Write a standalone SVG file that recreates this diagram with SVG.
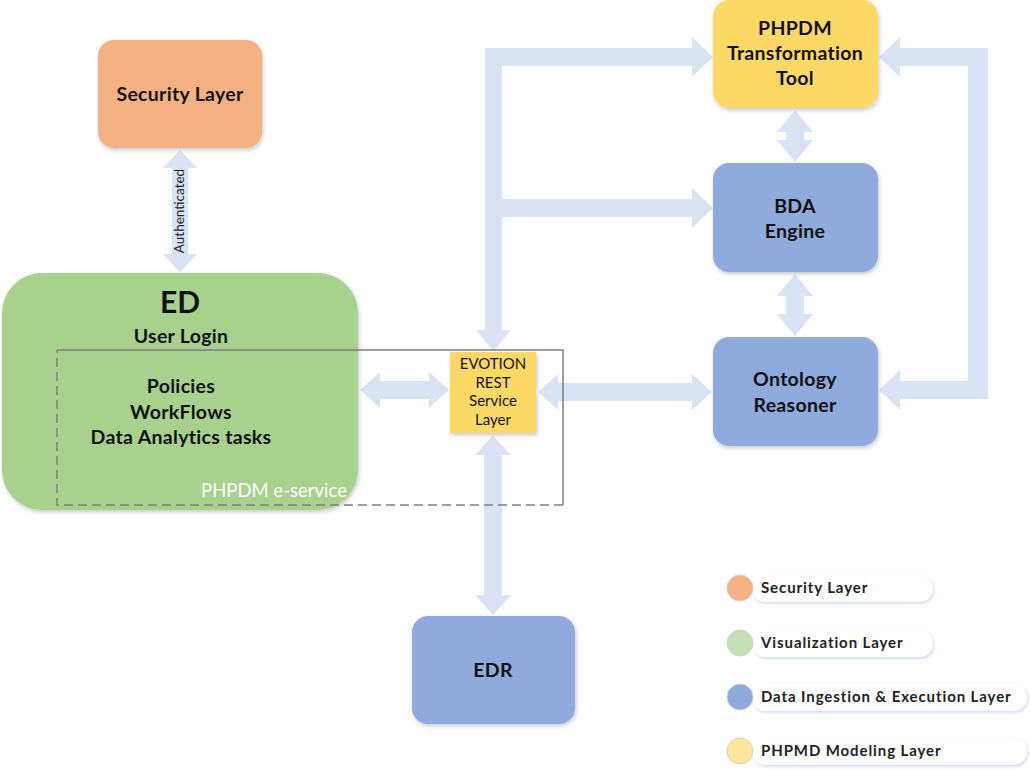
<svg xmlns="http://www.w3.org/2000/svg" width="1030" height="769" viewBox="0 0 1030 769">
  <defs>
    <filter id="shadow" x="-10%" y="-10%" width="125%" height="130%">
      <feDropShadow dx="1" dy="2" stdDeviation="2" flood-color="#000" flood-opacity="0.22"/>
    </filter>
    <filter id="soft" x="-10%" y="-30%" width="125%" height="170%">
      <feDropShadow dx="1" dy="1.5" stdDeviation="1.5" flood-color="#8FAADC" flood-opacity="0.45"/>
    </filter>
  </defs>
  <style>
    .conn { fill: #DAE3F3; }
    .box { filter: url(#shadow); }
    .t { font-family: Lato, "Open Sans", "Liberation Sans", sans-serif; fill: #111; text-anchor: middle; }
    .b { font-weight: bold; font-size: 19.5px; letter-spacing: 0.3px; }
    .lg { font-family: Lato, "Open Sans", "Liberation Sans", sans-serif; font-weight: bold; font-size: 15px; letter-spacing: 0.9px; fill: #222; }
    .pill { fill: #fff; filter: url(#soft); }
  </style>

  <rect width="1030" height="769" fill="#fff"/>

  <!-- connectors -->
  <g id="connectors">
    <!-- Security Layer <-> ED -->
    <polygon class="conn" points="180,150 197,168 188,168 188,254 197,254 180,272 163,254 172,254 172,168 163,168"/>
    <!-- left trunk down into EVOTION -->
    <polygon class="conn" points="485,48 502,48 502,330 511,330 493.5,351 476,330 485,330"/>
    <polygon class="conn" points="485,48 692,48 692,37 713,57 692,77 692,66 485,66"/>
    <polygon class="conn" points="502,199 692,199 692,188 713,208 692,228 692,217 502,217"/>
    <!-- right loop Ontology -> PHPDM Tool -->
    <polygon class="conn" points="968,48 988,48 988,399 968,399"/>
    <polygon class="conn" points="988,48 988,66 900,66 900,77 879,57 900,37 900,48"/>
    <polygon class="conn" points="988,381 988,399 900,399 900,410 879,390 900,370 900,381"/>
    <!-- PHPDM Tool <-> BDA Engine -->
    <polygon class="conn" points="795,110 813,132 804,132 804,140 813,140 795,162 777,140 786,140 786,132 777,132"/>
    <!-- BDA Engine <-> Ontology Reasoner -->
    <polygon class="conn" points="795,274 813,296 804,296 804,314 813,314 795,336 777,314 786,314 786,296 777,296"/>
    <!-- ED <-> EVOTION -->
    <polygon class="conn" points="360,390 380,372 380,381 429,381 429,372 449,390 429,408 429,399 380,399 380,408"/>
    <!-- EVOTION <-> Ontology -->
    <polygon class="conn" points="538,392 558,374 558,383 692,383 692,374 712,392 692,410 692,401 558,401 558,410"/>
    <!-- EVOTION <-> EDR -->
    <polygon class="conn" points="493,435 511,455 502,455 502,595 511,595 493,615 475,595 484,595 484,455 475,455"/>
    <text x="181" y="211" transform="rotate(-90 181 211)" font-family="Lato, 'Open Sans', 'Liberation Sans', sans-serif" font-size="13.5" fill="#222" text-anchor="middle" dominant-baseline="middle">Authenticated</text>
  </g>

  <!-- Security Layer -->
  <g id="security">
    <rect class="box" x="98" y="40" width="164" height="108" rx="16" fill="#F4B183"/>
    <text class="t b" x="180" y="101">Security Layer</text>
  </g>

  <!-- ED -->
  <g id="ed">
    <rect class="box" x="2" y="273" width="356" height="237" rx="40" fill="#A9D18E"/>
    <text class="t" x="180" y="313" font-size="30" font-weight="bold">ED</text>
    <text class="t b" x="181" y="343">User Login</text>
    <text class="t b" x="181" y="393">Policies</text>
    <text class="t b" x="181" y="419">WorkFlows</text>
    <text class="t b" x="181" y="444">Data Analytics tasks</text>
  </g>

  <!-- PHPDM e-service frame -->
  <g id="eservice">
    <polyline points="57,350 563,350 563,505" fill="none" stroke="#7F7F7F" stroke-width="1.5"/>
    <polyline points="563,505 57,505 57,350" fill="none" stroke="#7F7F7F" stroke-width="1.5" stroke-dasharray="9,5"/>
    <text x="274" y="497" font-family="Lato, 'Open Sans', 'Liberation Sans', sans-serif" font-size="18.5" fill="#fff" text-anchor="middle">PHPDM e-service</text>
  </g>

  <!-- EVOTION REST Service Layer -->
  <g id="evotion">
    <rect class="box" x="450" y="352" width="86" height="81" fill="#FFD966"/>
    <text class="t" x="493" y="369" font-size="15">EVOTION</text>
    <text class="t" x="493" y="388" font-size="15">REST</text>
    <text class="t" x="493" y="406" font-size="15">Service</text>
    <text class="t" x="493" y="425" font-size="15">Layer</text>
  </g>

  <!-- PHPDM Transformation Tool -->
  <g id="phpdm-tool">
    <rect class="box" x="713" y="0" width="165" height="108" rx="16" fill="#FFD966"/>
    <text class="t b" x="795" y="35">PHPDM</text>
    <text class="t b" x="795" y="60">Transformation</text>
    <text class="t b" x="795" y="85">Tool</text>
  </g>

  <!-- BDA Engine -->
  <g id="bda">
    <rect class="box" x="713" y="163" width="165" height="109" rx="16" fill="#8FAADC"/>
    <text class="t b" x="795" y="213">BDA</text>
    <text class="t b" x="795" y="238">Engine</text>
  </g>

  <!-- Ontology Reasoner -->
  <g id="ontology">
    <rect class="box" x="713" y="337" width="165" height="109" rx="16" fill="#8FAADC"/>
    <text class="t b" x="795" y="386">Ontology</text>
    <text class="t b" x="795" y="412">Reasoner</text>
  </g>

  <!-- EDR -->
  <g id="edr">
    <rect class="box" x="412" y="616" width="163" height="108" rx="16" fill="#8FAADC"/>
    <text class="t b" x="493" y="677">EDR</text>
  </g>

  <!-- legend -->
  <g id="legend">
    <rect class="pill" x="752" y="575" width="181" height="27" rx="13"/>
    <circle cx="740" cy="588" r="13" fill="#F4B183" stroke="#D0D0D0" stroke-width="1"/>
    <text class="lg" x="761" y="593">Security Layer</text>

    <rect class="pill" x="752" y="630" width="181" height="27" rx="13"/>
    <circle cx="740" cy="643" r="13" fill="#C5E0B4" stroke="#D0D0D0" stroke-width="1"/>
    <text class="lg" x="761" y="648">Visualization Layer</text>

    <rect class="pill" x="752" y="684" width="275" height="27" rx="13"/>
    <circle cx="740" cy="697" r="13" fill="#8FAADC" stroke="#D0D0D0" stroke-width="1"/>
    <text class="lg" x="761" y="702">Data Ingestion &amp; Execution Layer</text>

    <rect class="pill" x="752" y="738" width="275" height="27" rx="13"/>
    <circle cx="740" cy="751" r="13" fill="#FFE699" stroke="#D0D0D0" stroke-width="1"/>
    <text class="lg" x="761" y="756">PHPMD Modeling Layer</text>
  </g>
</svg>
